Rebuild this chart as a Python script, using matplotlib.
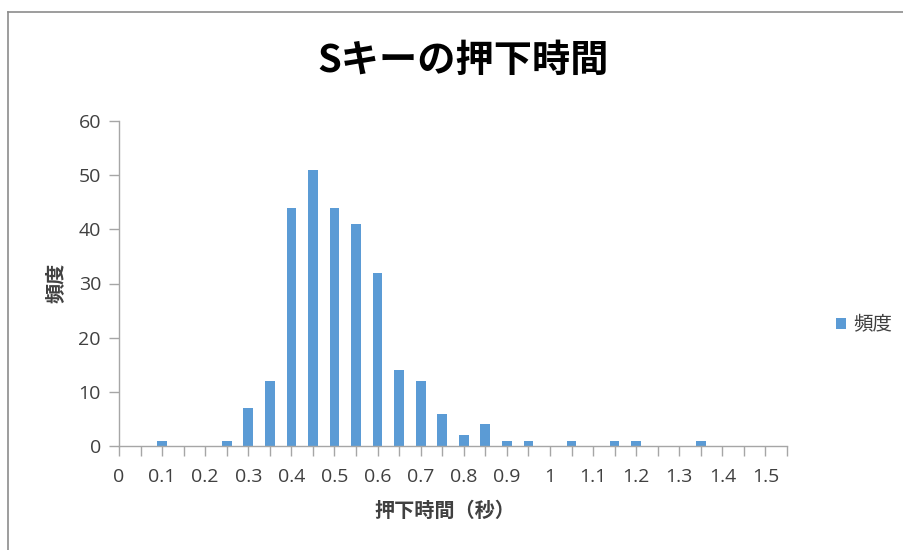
import matplotlib
matplotlib.use("Agg")
import matplotlib.pyplot as plt
from matplotlib.lines import Line2D
from matplotlib.patches import Patch
import numpy as np

plt.rcParams['font.family'] = ['Noto Sans CJK JP', 'DejaVu Sans']

# Press-duration bins (seconds) and their counts
bins = ['0', '0.05', '0.1', '0.15', '0.2', '0.25', '0.3', '0.35', '0.4', '0.45',
        '0.5', '0.55', '0.6', '0.65', '0.7', '0.75', '0.8', '0.85', '0.9', '0.95',
        '1', '1.05', '1.1', '1.15', '1.2', '1.25', '1.3', '1.35', '1.4', '1.45',
        '1.5', '1.55']
counts = [0, 0, 1, 0, 0, 1, 7, 12, 44, 51,
          44, 41, 32, 14, 12, 6, 2, 4, 1, 1,
          0, 1, 0, 1, 1, 0, 0, 1, 0, 0,
          0, 0]
yticks = [0, 10, 20, 30, 40, 50, 60]

title = 'Sキーの押下時間'
xlabel = '押下時間（秒）'
ylabel = '頻度'
series_name = '頻度'

bar_color = '#5B9BD5'
axis_color = '#A6A6A6'
text_color = '#404040'

W, H = 904, 550
fig = plt.figure(figsize=(W / 100, H / 100), dpi=100)
ax = fig.add_axes([119 / W, 1 - 446 / H, (787 - 119) / W, (446 - 121) / H])

x = np.arange(len(bins))
ax.bar(x, counts, width=0.45, color=bar_color, zorder=2)

ax.set_xlim(0, len(bins) - 1)
ax.set_ylim(0, 60)
ax.set_xticks(x)
ax.set_xticklabels([b if i % 2 == 0 else '' for i, b in enumerate(bins)])
ax.set_yticks(yticks)

for side in ('top', 'right'):
    ax.spines[side].set_visible(False)
for side in ('left', 'bottom'):
    ax.spines[side].set_color(axis_color)
    ax.spines[side].set_linewidth(1.0)
ax.tick_params(axis='both', colors=axis_color, length=7, width=1.0,
               labelcolor=text_color, labelsize=14)
ax.tick_params(axis='x', pad=9)
ax.tick_params(axis='y', pad=6)
for lbl in ax.get_xticklabels() + ax.get_yticklabels():
    lbl.set_fontfamily(['Open Sans', 'Noto Sans CJK JP'])

fig.text(463 / W, 1 - 60 / H, title, ha='center', va='center',
         fontsize=27.5, fontweight='bold', color='black')
fig.text(445 / W, 1 - 510 / H, xlabel, ha='center', va='center',
         fontsize=14.5, fontweight='bold', color=text_color)
fig.text(55 / W, 1 - 283 / H, ylabel, ha='center', va='center', rotation=90,
         fontsize=14.5, fontweight='bold', color=text_color)

handle = Patch(facecolor=bar_color, edgecolor='none')
fig.legend([handle], [series_name], loc='center left',
           bbox_to_anchor=(836 / W, 1 - 325 / H), frameon=False,
           borderpad=0, borderaxespad=0,
           fontsize=14, handlelength=0.5, handleheight=0.5, handletextpad=0.4,
           labelcolor=text_color)

# chart frame
fig.add_artist(Line2D([8 / W, 8 / W], [0, 1 - 12 / H], transform=fig.transFigure,
                      color='#8C8C8C', linewidth=1.2))
fig.add_artist(Line2D([8 / W, 1], [1 - 12 / H, 1 - 12 / H], transform=fig.transFigure,
                      color='#8C8C8C', linewidth=1.2))

fig.savefig('out.png', dpi=100)
